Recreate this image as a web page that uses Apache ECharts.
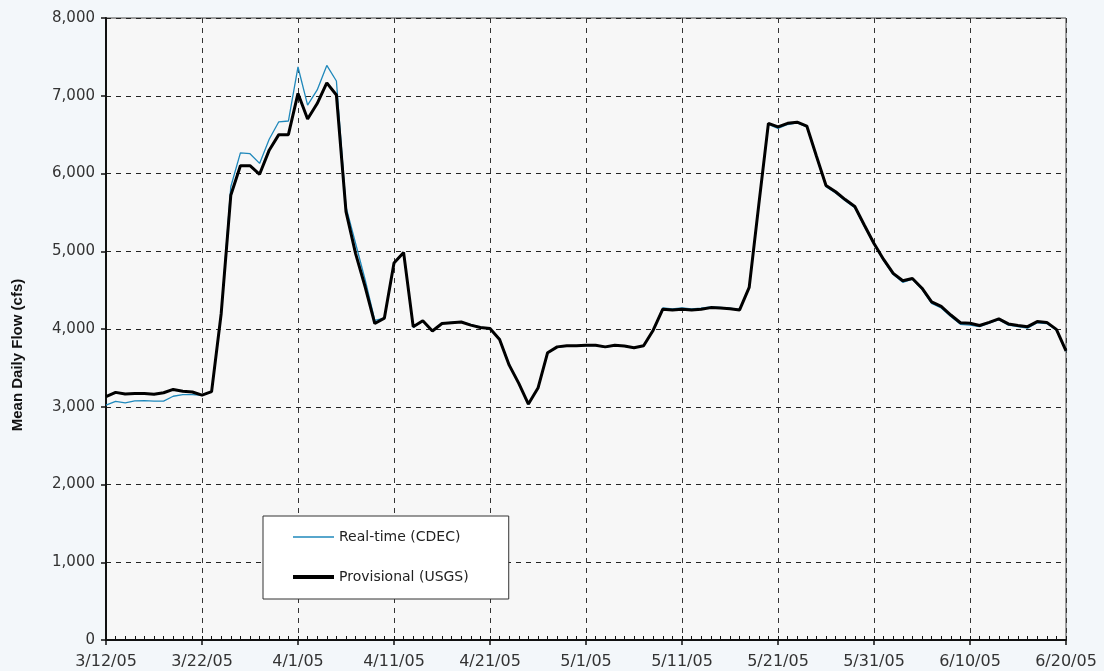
<!DOCTYPE html>
<html><head><meta charset="utf-8">
<script src="https://cdn.jsdelivr.net/npm/echarts@6/dist/echarts.min.js"></script>
<style>html,body{margin:0;padding:0;background:#f3f7fa;}#c{width:1104px;height:671px;}</style>
</head><body><div id="c"></div>
<script>
// Dates: 3/12/05 .. 6/20/05, one per day
const dates = (function(){const out=[];const d=new Date(2005,2,12);for(let i=0;i<=100;i++){const t=new Date(d.getFullYear(),d.getMonth(),d.getDate()+i);out.push((t.getMonth()+1)+'/'+t.getDate()+'/05');}return out;})();
const tickLabels = ['3/12/05','3/22/05','4/1/05','4/11/05','4/21/05','5/1/05','5/11/05','5/21/05','5/31/05','6/10/05','6/20/05'];
const yTicks = [0,1000,2000,3000,4000,5000,6000,7000,8000];

const realTimeCDEC = [
3020,3070,3050,3075,3078,3072,3073,3135,3155,3155,
3148,3195,4200,5830,6265,6255,6130,6440,6665,6675,
7370,6880,7075,7390,7190,5570,5100,4630,4110,4140,
4850,4985,4020,4100,3970,4075,4085,4095,4055,4025,
4000,3875,3545,3300,3030,3240,3690,3765,3780,3782,
3788,3790,3765,3788,3778,3758,3782,3990,4270,4260,
4270,4260,4268,4285,4278,4268,4250,4530,5590,6630,
6580,6630,6650,6600,6215,5830,5750,5650,5560,5320,
5090,4880,4700,4600,4640,4510,4330,4270,4160,4060,
4050,4030,4075,4120,4050,4030,4010,4080,4070,3985,3715];
const provisionalUSGS = [
3130,3185,3163,3170,3170,3160,3180,3223,3200,3190,
3150,3195,4200,5720,6100,6100,5990,6300,6500,6500,
7030,6700,6900,7165,7010,5510,4970,4540,4070,4140,
4850,4985,4030,4105,3975,4070,4080,4090,4050,4020,
4005,3865,3535,3300,3035,3240,3695,3770,3785,3785,
3790,3790,3770,3790,3780,3760,3785,3985,4255,4245,
4255,4245,4255,4275,4270,4260,4245,4535,5600,6645,
6600,6645,6660,6610,6225,5845,5765,5665,5575,5335,
5100,4895,4715,4620,4650,4525,4350,4290,4180,4080,
4075,4045,4085,4130,4065,4045,4030,4095,4085,3995,3720];

const FONT = 'DejaVu Sans';
const toPairs = arr => arr.map((v,i)=>[i,v]);
const chart = echarts.init(document.getElementById('c'), null, {renderer:'canvas'});
chart.setOption({
  backgroundColor:'#f3f7fa',
  animation:false,
  grid:{left:106,right:38,top:18,bottom:31,show:true,backgroundColor:'#f7f7f7',borderColor:'#444',borderWidth:1},
  legend:{
    orient:'vertical',left:263,top:516,
    padding:[14,40,15,28],itemGap:26,itemWidth:41,itemHeight:14,
    backgroundColor:'#ffffff',borderColor:'#333',borderWidth:1,
    textStyle:{fontFamily:FONT,fontSize:14,color:'#222'},
    itemStyle:{color:'rgba(0,0,0,0)',borderColor:'rgba(0,0,0,0)',borderWidth:0},
    data:[
      {name:'Real-time (CDEC)',lineStyle:{color:'#1f88bb',width:1.5}},
      {name:'Provisional (USGS)',lineStyle:{color:'#000',width:4}}
    ]
  },
  xAxis:[{
    type:'value',min:0,max:100,interval:10,
    axisLine:{show:true,onZero:false,lineStyle:{color:'#111',width:2}},
    axisTick:{show:true,length:5,lineStyle:{color:'#111',width:1.5}},
    axisLabel:{fontFamily:FONT,fontSize:16,color:'#333',margin:14,
      formatter:v=>tickLabels[Math.round(v/10)]||''},
    splitLine:{show:true,lineStyle:{color:'#333',type:[5,5],width:1}}
  },{
    type:'value',min:0,max:100,interval:1,position:'bottom',
    axisLine:{show:false},axisLabel:{show:false},splitLine:{show:false},
    axisTick:{show:true,inside:true,length:4,lineStyle:{color:'#111',width:1}}
  }],
  yAxis:{
    type:'value',min:0,max:8000,interval:1000,
    axisLine:{show:true,lineStyle:{color:'#111',width:2}},
    axisTick:{show:true,length:5,lineStyle:{color:'#111',width:1.5}},
    axisLabel:{fontFamily:FONT,fontSize:15,color:'#333',margin:11,
      formatter:v=>yTicks.includes(v)?v.toLocaleString('en-US'):''},
    splitLine:{show:true,lineStyle:{color:'#222',type:[5,5],width:1}}
  },
  graphic:[{type:'text',x:18,y:355,rotation:Math.PI/2,
    style:{text:'Mean Daily Flow (cfs)',fontFamily:'Liberation Sans',fontWeight:'bold',fontSize:15,fill:'#111',
      textAlign:'center',textVerticalAlign:'middle'}}],
  series:[
    {name:'Real-time (CDEC)',type:'line',xAxisIndex:0,data:toPairs(realTimeCDEC),symbol:'none',
     lineStyle:{color:'#1f88bb',width:1.3},itemStyle:{color:'#1f88bb'},z:2},
    {name:'Provisional (USGS)',type:'line',xAxisIndex:0,data:toPairs(provisionalUSGS),symbol:'none',
     lineStyle:{color:'#000',width:3},itemStyle:{color:'#000'},z:3}
  ]
});
</script></body></html>
